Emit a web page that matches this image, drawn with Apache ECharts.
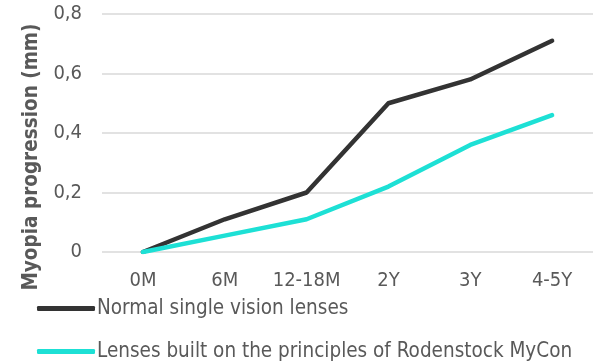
<!DOCTYPE html>
<html>
<head>
<meta charset="utf-8">
<script src="https://cdn.jsdelivr.net/npm/echarts@6/dist/echarts.min.js"></script>
<style>
  html, body { margin: 0; padding: 0; background: #fff; }
  #chart { width: 596px; height: 364px; }
</style>
</head>
<body>
<div id="chart"></div>
<script>
// Follow-up periods along the x axis
const periods = ['0M', '6M', '12-18M', '2Y', '3Y', '4-5Y'];
// Myopia progression in mm for each lens type
const singleVision = [0, 0.11, 0.2, 0.5, 0.58, 0.71];
const myCon = [0, 0.055, 0.11, 0.22, 0.36, 0.46];
const seriesNames = ['Normal single vision lenses', 'Lenses built on the principles of Rodenstock MyCon'];
const yTicks = [0, 0.2, 0.4, 0.6, 0.8];

const FONT = '"DejaVu Sans Condensed", "Liberation Sans Narrow", sans-serif';
const TEXT_COLOR = '#595959';
const COLORS = ['#333333', '#1de0d5'];

function legendFor(i, top) {
  return {
    orient: 'vertical',
    left: 32,
    top: top,
    itemWidth: 58,
    itemHeight: 5,
    icon: 'roundRect',
    textStyle: { fontFamily: FONT, fontSize: 20.5, color: TEXT_COLOR, padding: [0, 0, 0, -3] },
    data: [seriesNames[i]]
  };
}

const chart = echarts.init(document.getElementById('chart'), null, { renderer: 'canvas' });
chart.setOption({
  animation: false,
  backgroundColor: '#ffffff',
  grid: { left: 102, right: 3, top: 14, bottom: 112, containLabel: false },
  legend: [legendFor(0, 293), legendFor(1, 336)],
  xAxis: {
    type: 'category',
    data: periods,
    boundaryGap: true,
    axisLine: { show: false },
    axisTick: { show: false },
    axisLabel: { fontFamily: FONT, fontSize: 20, color: TEXT_COLOR, margin: 19, interval: 0 }
  },
  yAxis: {
    type: 'value',
    min: yTicks[0],
    max: yTicks[yTicks.length - 1],
    interval: 0.2,
    axisLine: { show: false },
    axisTick: { show: false },
    splitLine: { lineStyle: { color: '#d9d9d9', width: 1.5 } },
    axisLabel: {
      fontFamily: FONT, fontSize: 20, color: TEXT_COLOR, margin: 20,
      formatter: v => (Math.round(v * 10) / 10).toString().replace('.', ',')
    }
  },
  graphic: [{
    type: 'text',
    x: 32,
    y: 157,
    rotation: Math.PI / 2,
    style: {
      text: 'Myopia progression (mm)',
      fontFamily: FONT,
      fontSize: 20.5,
      fontWeight: 'bold',
      fill: TEXT_COLOR,
      textAlign: 'center',
      textVerticalAlign: 'middle'
    }
  }],
  series: [
    {
      name: seriesNames[0],
      type: 'line',
      data: singleVision,
      symbol: 'none',
      lineStyle: { color: COLORS[0], width: 4.5, cap: 'round', join: 'round' },
      itemStyle: { color: COLORS[0] }
    },
    {
      name: seriesNames[1],
      type: 'line',
      data: myCon,
      symbol: 'none',
      lineStyle: { color: COLORS[1], width: 4.5, cap: 'round', join: 'round' },
      itemStyle: { color: COLORS[1] }
    }
  ]
});
</script>
</body>
</html>
